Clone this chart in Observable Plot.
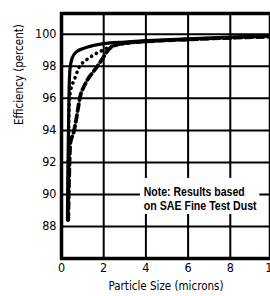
<!DOCTYPE html>
<html><head><meta charset="utf-8">
<script src="https://cdn.jsdelivr.net/npm/d3@7"></script>
<script src="https://cdn.jsdelivr.net/npm/@observablehq/plot@0.6"></script>
<style>
html,body{margin:0;padding:0;background:#fff;}
</style></head><body><div id="chart"></div>
<script>
// Solid curve
const solidSize = [0.28, 0.30, 0.33, 0.36, 0.40, 0.50, 0.70, 1.0, 1.5, 2.0, 3.0, 4.0, 6.0, 8.0, 10.0];
const solidEff  = [88.4, 91.0, 94.0, 96.5, 97.8, 98.5, 98.9, 99.1, 99.3, 99.42, 99.52, 99.6, 99.72, 99.82, 99.9];
// Dotted curve
const dottedSize = [0.30, 0.32, 0.34, 0.37, 0.45, 0.55, 0.66, 0.80, 1.05, 1.30, 1.50, 1.80, 2.10, 2.50, 3.0, 4.0, 6.0, 8.0, 10.0];
const dottedEff  = [88.6, 91.0, 94.0, 95.8, 96.6, 97.0, 97.35, 97.85, 98.28, 98.5, 98.7, 98.9, 99.1, 99.3, 99.42, 99.55, 99.68, 99.78, 99.86];
// Dashed curve
const dashedSize = [0.32, 0.36, 0.42, 0.58, 0.70, 0.80, 0.90, 1.05, 1.25, 1.50, 1.75, 2.0, 2.2, 2.5, 3.0, 4.0, 6.0, 8.0, 10.0];
const dashedEff  = [88.4, 91.0, 93.2, 93.9, 94.7, 95.5, 96.2, 96.7, 97.2, 97.65, 98.1, 98.6, 99.0, 99.3, 99.45, 99.55, 99.68, 99.78, 99.86];

const xTicks = [0, 2, 4, 6, 8, 10];
const yTicks = [88, 90, 92, 94, 96, 98, 100];
const xLabel = "Particle Size (microns)";
const yLabel = "Efficiency (percent)";
const noteLines = ["Note: Results based", "on SAE Fine Test Dust"];
const noteWidths = [101, 113];

const toRows = (xs, ys) => xs.map((x, i) => ({x, y: ys[i]}));
const solid = toRows(solidSize, solidEff);
const dotted = toRows(dottedSize, dottedEff);
const dashed = toRows(dashedSize, dashedEff);

const FONT = "'Liberation Sans Narrow', 'DejaVu Sans Condensed', sans-serif";

const chart = Plot.plot({
  width: 270,
  height: 296,
  marginLeft: 61,
  marginTop: 13,
  marginBottom: 38,
  marginRight: 0,
  style: {fontFamily: FONT, fontSize: "12px", color: "black", background: "white"},
  x: {domain: [0, 10], range: [61, 272]},
  y: {domain: [86, 101.3]},
  marks: [
    Plot.gridX(xTicks, {stroke: "black", strokeOpacity: 1, strokeWidth: 2}),
    Plot.gridY(yTicks, {stroke: "black", strokeOpacity: 1, strokeWidth: 2}),
    Plot.rect([{}], {x1: 3.74, x2: 9.4, y1: 88.75, y2: 91.0, fill: "white"}),
    Plot.text(noteLines, {x: 3.9, y: (d, i) => [90.15, 89.3][i], text: d => d, textAnchor: "start", lineAnchor: "middle", fontSize: 12.5, fontWeight: "bold", fill: "black", fontFamily: "'Liberation Sans', sans-serif", className: "note"}),
    Plot.line(dashed, {x: "x", y: "y", stroke: "black", strokeWidth: 3.8, strokeDasharray: "7 4", curve: "monotone-x"}),
    Plot.line(dotted, {x: "x", y: "y", stroke: "black", strokeWidth: 3.6, strokeDasharray: "0.1 5.5", strokeLinecap: "round", curve: "monotone-x"}),
    Plot.line(solid, {x: "x", y: "y", stroke: "black", strokeWidth: 3.2, curve: "monotone-x"}),
    Plot.frame({stroke: "black", strokeWidth: 3.5}),
    Plot.axisX({ticks: xTicks, tickSize: 0, tickPadding: 5, fontSize: 12.5, fill: "black", label: null}),
    Plot.axisY({ticks: yTicks, tickSize: 0, tickPadding: 5, fontSize: 12.5, fill: "black", label: null}),
    Plot.text([xLabel], {frameAnchor: "bottom", dy: 31, text: d => d, fontSize: 11.5, fill: "black"}),
    Plot.text([yLabel], {frameAnchor: "left", dx: -42, dy: -11, rotate: -90, text: d => d, fontSize: 11.5, fill: "black"})
  ]
});
document.getElementById("chart").appendChild(chart);
// squeeze the note lines horizontally to the condensed width of the original lettering
chart.querySelectorAll("g.note text").forEach((t, i) => {
  const natural = t.getComputedTextLength();
  if (natural > 0) {
    const k = noteWidths[i] / natural;
    const tr = t.getAttribute("transform") || "";
    t.setAttribute("transform", tr + ` scale(${k.toFixed(4)},1)`);
  }
});
</script></body></html>
